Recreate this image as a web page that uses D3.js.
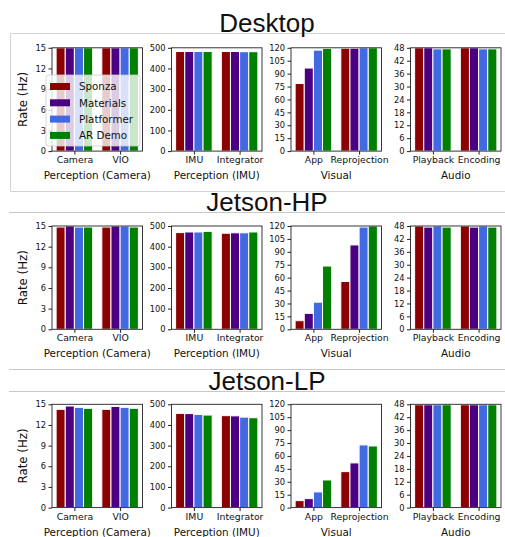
<!DOCTYPE html>
<html>
<head>
<meta charset="utf-8">
<script src="https://cdn.jsdelivr.net/npm/d3@7"></script>
<style>
  body { margin: 0; background: #fff; }
  svg text { font-family: "DejaVu Sans", sans-serif; fill: #111; }
  .title { font-family: "Liberation Sans", Arial, sans-serif; }
</style>
</head>
<body>
<svg id="chart" width="505" height="537"></svg>
<script>
// data
const devices = ['Desktop', 'Jetson-HP', 'Jetson-LP'];
const apps = ['Sponza', 'Materials', 'Platformer', 'AR Demo'];
const panelLabels = ['Perception (Camera)', 'Perception (IMU)', 'Visual', 'Audio'];
const panelCategories = [
    ['Camera', 'VIO'],
    ['IMU', 'Integrator'],
    ['App', 'Reprojection'],
    ['Playback', 'Encoding']
];
const panelYMax = [15, 500, 120, 48];
const panelYStep = [3, 100, 15, 6];

// rates[panel][category][app]
const desktopRates = [
    [[15, 15, 15, 15], [15, 15, 15, 15]],
    [[482, 482, 482, 482], [482, 482, 481, 481]],
    [[78.5, 96.5, 117.3, 119.3], [119.5, 119.5, 120, 120]],
    [[48, 48, 47.5, 47.5], [48, 48, 47.5, 47.5]]
];
const jetsonHPRates = [
    [[14.85, 15, 14.85, 14.85], [14.85, 15, 15, 14.85]],
    [[468, 471, 471, 474], [465, 467, 467, 471]],
    [[10, 18.5, 31.5, 73.5], [55.5, 98, 118.8, 120]],
    [[48, 47.5, 48, 47.5], [48, 47.5, 48, 47.5]]
];
const jetsonLPRates = [
    [[14.27, 14.75, 14.56, 14.42], [14.27, 14.68, 14.56, 14.42]],
    [[456, 455, 451, 448], [445, 444, 438, 435]],
    [[8.1, 10.4, 18.2, 32.1], [41.8, 51.9, 72.8, 71.6]],
    [[47.8, 47.8, 47.8, 47.8], [47.8, 47.8, 47.8, 47.8]]
];
const deviceRates = [desktopRates, jetsonHPRates, jetsonLPRates];

const appColors = ['#8b0000', '#4b0082', '#4169e1', '#008000'];

// layout
const AX_LEFT = 52;
const AX_STEP = 119.5;
const AX_W = 90.5;
const AX_H = 103.3;
const rowTops = [47.8, 226, 404.3];
const titleBaselines = [32, 211, 390];
const BAR_W = 0.2;

const svg = d3.select('#chart');

// panel separators
svg.append('path')
    .attr('d', 'M505,33.5 H10.5 V191.5 H505')
    .attr('fill', 'none')
    .attr('stroke', '#d4d4d4');
[212.5, 369.5, 391.5].forEach(y => {
    svg.append('line')
        .attr('x1', 9).attr('x2', 505)
        .attr('y1', y).attr('y2', y)
        .attr('stroke', '#c8c8c8');
});

devices.forEach((device, r) => {
    svg.append('text')
        .classed('title', true)
        .attr('x', 267)
        .attr('y', titleBaselines[r])
        .attr('text-anchor', 'middle')
        .style('font-size', '26px')
        .text(device);

    const top = rowTops[r];
    const bottom = top + AX_H;

    svg.append('text')
        .attr('transform', `translate(27,${top + AX_H / 2}) rotate(-90)`)
        .attr('text-anchor', 'middle')
        .style('font-size', '11.8px')
        .text('Rate (Hz)');

    panelLabels.forEach((label, p) => {
        const left = AX_LEFT + p * AX_STEP;
        const cats = panelCategories[p];
        const lo = -BAR_W / 2;
        const hi = (cats.length - 1) + (apps.length - 1) * BAR_W + BAR_W / 2;
        const pad = (hi - lo) * 0.05;

        const x = d3.scaleLinear()
            .domain([lo - pad, hi + pad])
            .range([left, left + AX_W]);
        const y = d3.scaleLinear()
            .domain([0, panelYMax[p]])
            .range([bottom, top]);

        const g = svg.append('g');
        const rates = deviceRates[r][p];

        cats.forEach((cat, c) => {
            g.selectAll(null)
                .data(rates[c])
                .enter()
                .append('rect')
                .attr('x', (v, i) => x(c + i * BAR_W - BAR_W / 2))
                .attr('width', x(BAR_W) - x(0))
                .attr('y', v => y(v))
                .attr('height', v => y(0) - y(v))
                .attr('fill', (v, i) => appColors[i])
                .attr('stroke', '#fff')
                .attr('stroke-width', 1);
        });

        const yAxis = d3.axisLeft(y)
            .tickValues(d3.range(0, panelYMax[p] + 0.001, panelYStep[p]))
            .tickSize(3.5)
            .tickPadding(2.5)
            .tickSizeOuter(0);
        const ya = g.append('g')
            .attr('transform', `translate(${left},0)`)
            .call(yAxis);
        ya.select('.domain').remove();
        ya.selectAll('text').style('font-size', '8.3px').attr('fill', '#111');
        ya.selectAll('line').attr('stroke', '#222');

        const xAxis = d3.axisBottom(x)
            .tickValues(cats.map((d, c) => c + (apps.length - 1) * BAR_W / 2))
            .tickFormat((d, c) => cats[c])
            .tickSize(3.5)
            .tickPadding(2)
            .tickSizeOuter(0);
        const xa = g.append('g')
            .attr('transform', `translate(0,${bottom})`)
            .call(xAxis);
        xa.select('.domain').remove();
        xa.selectAll('text').style('font-size', '9.3px').attr('fill', '#111');
        xa.selectAll('line').attr('stroke', '#222');

        g.append('rect')
            .attr('x', left)
            .attr('y', top)
            .attr('width', AX_W)
            .attr('height', AX_H)
            .attr('fill', 'none')
            .attr('stroke', '#222')
            .attr('stroke-width', 0.9);

        g.append('text')
            .attr('x', left + AX_W / 2)
            .attr('y', bottom + 28)
            .attr('text-anchor', 'middle')
            .style('font-size', '10.4px')
            .text(label);
    });
});

// legend sits on the first Desktop panel
const legend = svg.append('g');
legend.append('rect')
    .attr('x', 46).attr('y', 75)
    .attr('width', 94).attr('height', 71)
    .attr('rx', 2.5)
    .attr('fill', '#fff')
    .attr('fill-opacity', 0.8)
    .attr('stroke', '#cccccc')
    .attr('stroke-width', 0.8);
apps.forEach((app, i) => {
    const cy = 86.5 + i * 16.3;
    legend.append('rect')
        .attr('x', 50).attr('y', cy - 3.5)
        .attr('width', 20).attr('height', 7)
        .attr('fill', appColors[i]);
    legend.append('text')
        .attr('x', 79).attr('y', cy + 3.7)
        .style('font-size', '10.3px')
        .text(app);
});
</script>
</body>
</html>
